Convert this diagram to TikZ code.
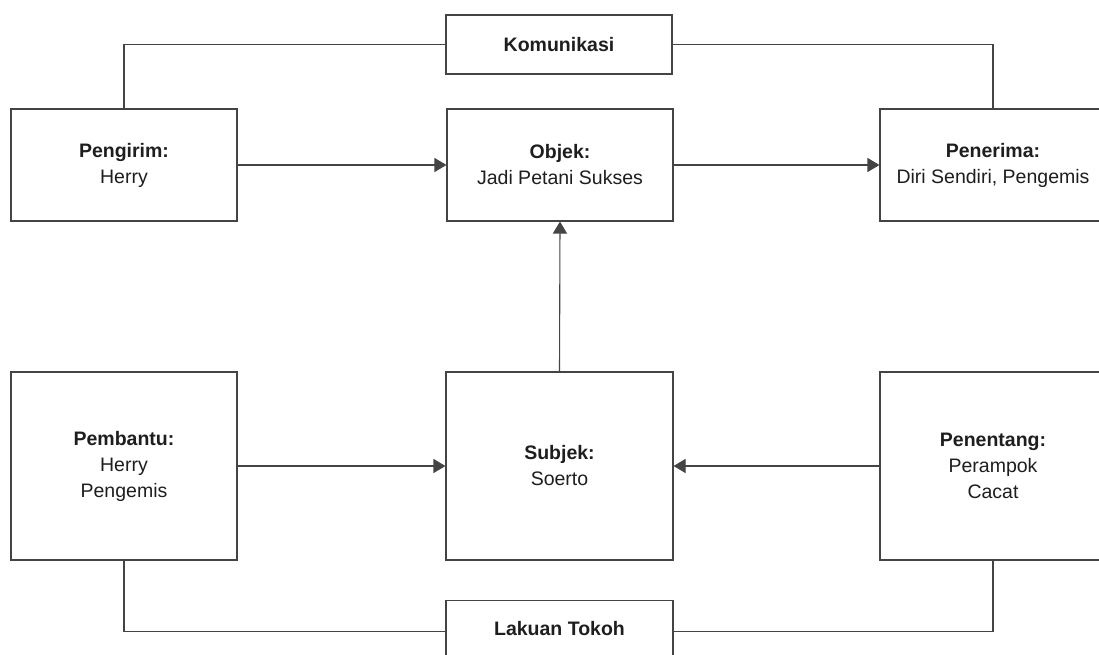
\documentclass[tikz,border=0pt]{standalone}
\usepackage{fontspec}
\setmainfont{Liberation Sans}
\usetikzlibrary{arrows.meta}
\definecolor{ln}{HTML}{444444}
\definecolor{tx}{HTML}{1E1E1E}
\tikzset{
  box/.style={draw=ln, line width=1.1pt, minimum width=226pt, inner sep=0pt, align=center, text=tx,
    font=\fontsize{19.5}{26}\selectfont},
  conn/.style={draw=ln, line width=1.1pt},
  arr/.style={conn, -{Triangle[length=12pt,width=14pt]}}
}
\begin{document}
\begin{tikzpicture}[x=1pt,y=-1pt]
\useasboundingbox (0,0) rectangle (1099,655);
\clip (0,0) rectangle (1099,655);
\fill[white] (0,0) rectangle (1099,655);
\node[box, minimum height=112pt] (pengirim) at (124,165) {\textbf{Pengirim:}\\Herry};
\node[box, minimum height=59pt] (kom) at (559,44.5) {\textbf{Komunikasi}};
\node[box, minimum height=112pt] (objek) at (560,165) {\textbf{Objek:}\\Jadi Petani Sukses};
\node[box, minimum height=112pt] (penerima) at (993,165) {\textbf{Penerima:}\\Diri Sendiri, Pengemis};
\node[box, minimum height=188pt, minimum width=227pt] (subjek) at (559.5,466) {\textbf{Subjek:}\\Soerto};
\node[box, minimum height=188pt] (pembantu) at (124,466) {\textbf{Pembantu:}\\Herry\\Pengemis};
\node[box, minimum height=188pt] (penentang) at (993,466) {\textbf{Penentang:}\\Perampok\\Cacat};
\node[box, minimum height=58pt, minimum width=227pt, anchor=north] (lakuan) at (559.5,600) {\raisebox{2pt}{\textbf{Lakuan Tokoh}}};
\draw[conn] (kom.west) -| (pengirim.north);
\draw[conn] (kom.east) -| (penerima.north);
\draw[arr] (pengirim.east) -- (objek.west);
\draw[arr] (objek.east) -- (penerima.west);
\draw[arr] (subjek.north) -- (objek.south);
\draw[arr] (pembantu.east) -- (subjek.west);
\draw[arr] (penentang.west) -- (subjek.east);
\draw[conn] (pembantu.south) |- ([yshift=-2pt]lakuan.west);
\draw[conn] (penentang.south) |- ([yshift=-2pt]lakuan.east);
\end{tikzpicture}
\end{document}
